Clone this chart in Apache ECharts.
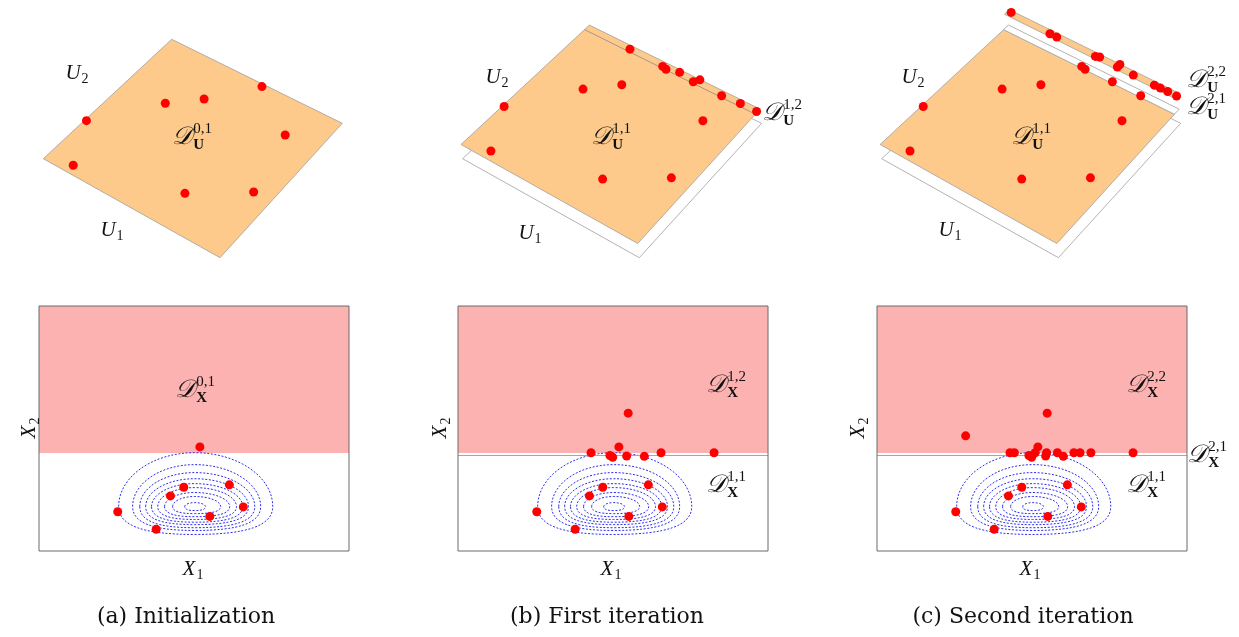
<!DOCTYPE html>
<html>
<head>
<meta charset="utf-8">
<script src="https://cdn.jsdelivr.net/npm/echarts@6/dist/echarts.min.js"></script>
<style>
  html, body { margin: 0; padding: 0; background: #ffffff; }
  #chart { width: 1239px; height: 637px; }
</style>
</head>
<body>
<div id="chart"></div>
<script>
// ---------------- data ----------------
// Samples in the unit square U = (U1, U2)
const U_INIT = [[0.54, 0.985], [0.232, 0.638], [0.363, 0.766], [0.008, 0.325],
                [0.815, 0.793], [0.131, 0.053], [0.643, 0.225], [0.899, 0.419]];
const U_ITER1 = [[0.254, 0.978], [0.450, 0.972], [0.474, 0.966], [0.630, 0.971],
                 [0.649, 0.998], [0.796, 0.971], [0.900, 0.979], [0.995, 0.979]];
const U_ITER2 = [[0.018, 0.990], [0.294, 0.978], [0.521, 0.977], [0.649, 0.978],
                 [0.743, 0.977], [0.865, 0.979], [0.942, 0.980]];
// Sub-domain boundaries along U2
const U_SPLIT_1 = 0.962;
const U_SPLIT_2 = 0.975;

// The same samples in the physical space X = (X1, X2)
const X_INIT = [[5.19, 3.40], [2.54, 1.28], [3.78, 0.71], [4.24, 1.80],
                [4.67, 2.08], [6.14, 2.16], [6.59, 1.44], [5.51, 1.13]];
const X_ITER1 = [[5.49, 4.50], [4.29, 3.21], [4.90, 3.12], [4.99, 3.06],
                 [5.44, 3.10], [6.01, 3.09], [6.55, 3.21], [8.26, 3.21]];
const X_ITER2 = [[2.86, 3.76], [4.43, 3.21], [5.10, 3.21], [5.47, 3.21],
                 [5.82, 3.21], [6.35, 3.21], [6.90, 3.21]];
// Failure threshold on X2 and the refined sub-domain edge
const X_SPLIT = 3.2;
const X_SPLIT_LINE = 3.14;
const X1_RANGE = [0, 10];
const X2_RANGE = [0, 8];

// Density iso-lines: centre, then per ring [left, right, up, down] extents
const DENSITY_CENTER = [5.02, 1.45];
const DENSITY_RINGS = [
  [2.45, 2.52, 1.76, 0.91],
  [2.00, 2.13, 1.37, 0.78],
  [1.77, 1.94, 1.11, 0.69],
  [1.58, 1.74, 0.91, 0.59],
  [1.39, 1.55, 0.75, 0.51],
  [1.19, 1.35, 0.62, 0.42],
  [0.97, 1.13, 0.46, 0.33],
  [0.71, 0.84, 0.33, 0.23],
  [0.32, 0.35, 0.13, 0.13]
];

const CAPTIONS = ['(a) Initialization', '(b) First iteration', '(c) Second iteration'];

// ---------------- layout & style ----------------
const SERIF = '"Liberation Serif", "DejaVu Serif", serif';
const CAPTION_FONT = '22px "DejaVu Serif", serif';
const ORANGE = '#fdca8b';
const PINK = '#fdb2b2';
const RED = '#ff0000';
const EDGE = '#a0a0a0';

const TOP_LEFT = [30, 449.3, 868.4];
const TOP_W = 330, TOP_H = 270;
const BOT_LEFT = [39, 458, 877];
const BOT_TOP = 306, BOT_W = 310, BOT_H = 245;

// Oblique view of the unit square: corner positions in the sheet plane,
// plus the lift applied to each stacked level.
const VIEW = {
  origin: [13.3, 158.7],   // (U1, U2) = (0, 0)
  u1End: [190.0, 257.7],   // (1, 0)
  u2End: [141.7, 39.3],    // (0, 1)
  far: [312.3, 123.3],     // (1, 1)
  lift: [[0, 0], [-1.6, -14.2], [-0.7, -29.6]]
};

function project(u1, u2, level) {
  const a = (1 - u1) * (1 - u2), b = u1 * (1 - u2), c = (1 - u1) * u2, d = u1 * u2;
  const lf = VIEW.lift[level];
  return [
    VIEW.origin[0] * a + VIEW.u1End[0] * b + VIEW.u2End[0] * c + VIEW.far[0] * d + lf[0],
    VIEW.origin[1] * a + VIEW.u1End[1] * b + VIEW.u2End[1] * c + VIEW.far[1] * d + lf[1]
  ];
}

// ---------------- text helpers ----------------
const measureCtx = document.createElement('canvas').getContext('2d');
function textWidth(str, font) {
  measureCtx.font = font;
  return measureCtx.measureText(str).width;
}
function txt(x, y, text, font) {
  return {
    type: 'text', x: x, y: y, silent: true, z: 100,
    style: { text: text, font: font, fill: '#111', align: 'left', verticalAlign: 'middle',
             textAlign: 'left', textVerticalAlign: 'middle' }
  };
}
// Symbol with optional superscript / subscript, centred on (x, y)
function mathLabel(x, y, base, sup, sub, opt) {
  opt = opt || {};
  const size = opt.size || 21;
  const baseSize = opt.baseSize || size;
  const small = Math.round(size * 0.68);
  const baseFont = 'italic ' + baseSize + 'px ' + SERIF;
  const supFont = small + 'px ' + SERIF;
  const subFont = (opt.subBold ? 'bold ' : '') + small + 'px ' + SERIF;
  const bw = textWidth(base, baseFont);
  const sw = Math.max(sup ? textWidth(sup, supFont) : 0, sub ? textWidth(sub, subFont) : 0);
  const left = -(bw + 1 + sw) / 2;
  const children = [txt(left, 0, base, baseFont)];
  if (sup) children.push(txt(left + bw + 1, -size * 0.36, sup, supFont));
  if (sub) children.push(txt(left + bw + 1, size * (sup ? 0.36 : 0.3), sub, subFont));
  return { type: 'group', x: x, y: y, z: 100, rotation: opt.rotation || 0, children: children };
}

// ---------------- series builders ----------------
function sheetSeries(gridIndex, sheets) {
  return {
    type: 'custom', xAxisIndex: gridIndex, yAxisIndex: gridIndex, z: 2, silent: true,
    data: sheets,
    renderItem: function (params, api) {
      const lo = api.value(0), hi = api.value(1), lv = api.value(2), kind = api.value(3);
      const pts = [project(0, lo, lv), project(1, lo, lv), project(1, hi, lv), project(0, hi, lv)]
        .map(function (p) { return api.coord(p); });
      return {
        type: 'polygon', shape: { points: pts },
        style: { fill: kind === 0 ? ORANGE : '#ffffff', stroke: EDGE, lineWidth: 0.8 }
      };
    }
  };
}
function splitLineSeries(gridIndex, lines) {
  return {
    type: 'custom', xAxisIndex: gridIndex, yAxisIndex: gridIndex, z: 3, silent: true,
    data: lines,
    renderItem: function (params, api) {
      const u2 = api.value(0), lv = api.value(1);
      const p0 = api.coord(project(0, u2, lv)), p1 = api.coord(project(1, u2, lv));
      return {
        type: 'line', shape: { x1: p0[0], y1: p0[1], x2: p1[0], y2: p1[1] },
        style: { stroke: '#8c8c8c', lineWidth: 0.8 }
      };
    }
  };
}
function uPointSeries(gridIndex, points, levelOf) {
  return {
    type: 'scatter', xAxisIndex: gridIndex, yAxisIndex: gridIndex, z: 5, silent: true,
    symbol: 'circle', symbolSize: 9, itemStyle: { color: RED, opacity: 1 },
    data: points.map(function (u) { return project(u[0], u[1], levelOf(u)); })
  };
}
function densitySeries(gridIndex, withLine) {
  const s = {
    type: 'custom', xAxisIndex: gridIndex, yAxisIndex: gridIndex, z: 2, silent: true,
    data: DENSITY_RINGS,
    markArea: {
      silent: true, itemStyle: { color: PINK, opacity: 1 },
      data: [[{ yAxis: X_SPLIT }, { yAxis: X2_RANGE[1] }]]
    },
    renderItem: function (params, api) {
      const cx = DENSITY_CENTER[0], cy = DENSITY_CENTER[1];
      const l = api.value(0), r = api.value(1), u = api.value(2), d = api.value(3);
      const c = api.coord([cx, cy]);
      const X = c[0], Y = c[1];
      const xl = api.coord([cx - l, cy])[0], xr = api.coord([cx + r, cy])[0];
      const yt = api.coord([cx, cy + u])[1], yb = api.coord([cx, cy - d])[1];
      const k = 0.5523, kb = 0.68;
      const path =
        'M' + xl + ' ' + Y +
        ' C' + xl + ' ' + (Y - k * (Y - yt)) + ' ' + (X - k * (X - xl)) + ' ' + yt + ' ' + X + ' ' + yt +
        ' C' + (X + k * (xr - X)) + ' ' + yt + ' ' + xr + ' ' + (Y - k * (Y - yt)) + ' ' + xr + ' ' + Y +
        ' C' + xr + ' ' + (Y + kb * (yb - Y)) + ' ' + (X + kb * (xr - X)) + ' ' + yb + ' ' + X + ' ' + yb +
        ' C' + (X - kb * (X - xl)) + ' ' + yb + ' ' + xl + ' ' + (Y + kb * (yb - Y)) + ' ' + xl + ' ' + Y + ' Z';
      return {
        type: 'path', shape: { pathData: path },
        style: { fill: 'none', stroke: '#2e2ef5', lineWidth: 1, lineDash: [2, 1.6] }
      };
    }
  };
  if (withLine) {
    s.markLine = {
      silent: true, symbol: 'none', label: { show: false },
      lineStyle: { color: '#a8a8a8', width: 1.2, type: 'solid' },
      data: [{ yAxis: X_SPLIT_LINE }]
    };
  }
  return s;
}
function xPointSeries(gridIndex, points) {
  return {
    type: 'scatter', xAxisIndex: gridIndex, yAxisIndex: gridIndex, z: 5, silent: true,
    symbol: 'circle', symbolSize: 9, itemStyle: { color: RED, opacity: 1 }, data: points
  };
}

// ---------------- grids & axes ----------------
const grids = [], xAxes = [], yAxes = [];
for (let k = 0; k < 3; k++) {
  grids.push({ left: TOP_LEFT[k], top: 0, width: TOP_W, height: TOP_H, show: false });
  xAxes.push({ gridIndex: k, type: 'value', min: 0, max: TOP_W, show: false });
  yAxes.push({ gridIndex: k, type: 'value', min: 0, max: TOP_H, inverse: true, show: false });
}
for (let k = 0; k < 3; k++) {
  grids.push({ left: BOT_LEFT[k], top: BOT_TOP, width: BOT_W, height: BOT_H, show: true, z: 10,
               backgroundColor: 'transparent', borderColor: '#6a6a6a', borderWidth: 1 });
  xAxes.push({ gridIndex: 3 + k, type: 'value', min: X1_RANGE[0], max: X1_RANGE[1], show: false });
  yAxes.push({ gridIndex: 3 + k, type: 'value', min: X2_RANGE[0], max: X2_RANGE[1], show: false });
}

const levelIter1 = function () { return 1; };
const levelIter2 = function (u) { return u[1] >= U_SPLIT_2 ? 2 : 1; };

const series = [
  // (a) single sheet
  sheetSeries(0, [[0, 1, 0, 0]]),
  uPointSeries(0, U_INIT, function () { return 0; }),
  // (b) base sheet + lifted sheet split at U_SPLIT_1
  sheetSeries(1, [[0, 1, 0, 1], [0, 1, 1, 0]]),
  splitLineSeries(1, [[U_SPLIT_1, 1]]),
  uPointSeries(1, U_INIT.concat(U_ITER1), levelIter1),
  // (c) base, level-1 sub-domains, and the strip lifted once more
  sheetSeries(2, [[0, 1, 0, 1], [0, U_SPLIT_1, 1, 0], [U_SPLIT_1, 1, 1, 1], [U_SPLIT_1, 1, 2, 0]]),
  uPointSeries(2, U_INIT.concat(U_ITER1, U_ITER2), levelIter2),
  // physical space
  densitySeries(3, false),
  xPointSeries(3, X_INIT),
  densitySeries(4, true),
  xPointSeries(4, X_INIT.concat(X_ITER1)),
  densitySeries(5, true),
  xPointSeries(5, X_INIT.concat(X_ITER1, X_ITER2))
];

// ---------------- labels ----------------
const D = '\uD835\uDC9F'; // script capital D
const DOPT = { size: 22, baseSize: 25, subBold: true };
const g = [];
const uLab = [[77, 73, 112, 230], [497, 77, 530, 233], [913, 77, 950, 230]];
for (let k = 0; k < 3; k++) {
  g.push(mathLabel(uLab[k][0], uLab[k][1], 'U', null, '2'));
  g.push(mathLabel(uLab[k][2], uLab[k][3], 'U', null, '1'));
}
g.push(mathLabel(192, 137, D, '0,1', 'U', DOPT));
g.push(mathLabel(611, 137, D, '1,1', 'U', DOPT));
g.push(mathLabel(782, 113, D, '1,2', 'U', DOPT));
g.push(mathLabel(1031, 137, D, '1,1', 'U', DOPT));
g.push(mathLabel(1206, 80, D, '2,2', 'U', DOPT));
g.push(mathLabel(1206, 107, D, '2,1', 'U', DOPT));

g.push(mathLabel(195, 390, D, '0,1', 'X', DOPT));
g.push(mathLabel(726, 385, D, '1,2', 'X', DOPT));
g.push(mathLabel(726, 485, D, '1,1', 'X', DOPT));
g.push(mathLabel(1146, 385, D, '2,2', 'X', DOPT));
g.push(mathLabel(1207, 455, D, '2,1', 'X', DOPT));
g.push(mathLabel(1146, 485, D, '1,1', 'X', DOPT));

const x1Lab = [193, 611, 1030], x2Lab = [29, 440, 858];
for (let k = 0; k < 3; k++) {
  g.push(mathLabel(x1Lab[k], 569, 'X', null, '1'));
  g.push(mathLabel(x2Lab[k], 428, 'X', null, '2', { rotation: Math.PI / 2 }));
}
const capX = [186, 607, 1023];
for (let k = 0; k < 3; k++) {
  g.push({
    type: 'text', x: capX[k], y: 617, silent: true, z: 100,
    style: { text: CAPTIONS[k], font: CAPTION_FONT, fill: '#111',
             align: 'center', verticalAlign: 'middle', textAlign: 'center', textVerticalAlign: 'middle' }
  });
}

const chart = echarts.init(document.getElementById('chart'), null, { renderer: 'canvas' });
chart.setOption({
  backgroundColor: '#ffffff',
  animation: false,
  grid: grids,
  xAxis: xAxes,
  yAxis: yAxes,
  series: series,
  graphic: { elements: g }
});
</script>
</body>
</html>
